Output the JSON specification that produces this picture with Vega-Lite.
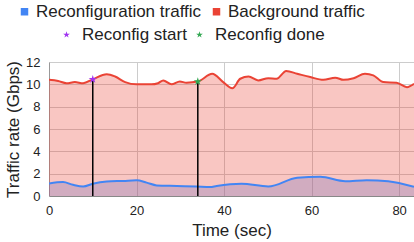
{
  "$schema": "https://vega.github.io/schema/vega-lite/v6.json",
  "width": 365,
  "height": 134,
  "autosize": {"type": "none"},
  "padding": {"left": 49, "top": 62, "right": 0, "bottom": 46},
  "background": "white",
  "config": {
    "font": "Liberation Sans",
    "view": {"stroke": null},
    "axis": {"labelFont": "Liberation Sans", "titleFont": "Liberation Sans", "labelColor": "#222", "titleColor": "#222", "titleFontWeight": "normal", "gridColor": "#cccccc", "ticks": false, "domainColor": "#999999", "labelFlush": false, "labelOverlap": false},
    "legend": {"labelFont": "Liberation Sans", "labelColor": "#222", "padding": 0, "labelLimit": 400}
  },
  "datasets": {
    "traffic": [
      {"t": 0, "v": 10.4, "s": "Background traffic"},
      {"t": 2.1, "v": 10.3, "s": "Background traffic"},
      {"t": 4, "v": 10.1, "s": "Background traffic"},
      {"t": 5.9, "v": 10.2, "s": "Background traffic"},
      {"t": 7.8, "v": 10.1, "s": "Background traffic"},
      {"t": 10, "v": 10.45, "s": "Background traffic"},
      {"t": 13.2, "v": 10.9, "s": "Background traffic"},
      {"t": 15.1, "v": 10.7, "s": "Background traffic"},
      {"t": 17.4, "v": 10.2, "s": "Background traffic"},
      {"t": 20, "v": 10.0, "s": "Background traffic"},
      {"t": 23.4, "v": 10.0, "s": "Background traffic"},
      {"t": 24.9, "v": 10.1, "s": "Background traffic"},
      {"t": 26.1, "v": 10.35, "s": "Background traffic"},
      {"t": 28, "v": 10.0, "s": "Background traffic"},
      {"t": 29.9, "v": 10.25, "s": "Background traffic"},
      {"t": 31.4, "v": 10.15, "s": "Background traffic"},
      {"t": 34, "v": 10.25, "s": "Background traffic"},
      {"t": 37.3, "v": 10.95, "s": "Background traffic"},
      {"t": 39.8, "v": 10.2, "s": "Background traffic"},
      {"t": 41.9, "v": 9.65, "s": "Background traffic"},
      {"t": 43.7, "v": 10.5, "s": "Background traffic"},
      {"t": 45.6, "v": 10.7, "s": "Background traffic"},
      {"t": 47.8, "v": 10.35, "s": "Background traffic"},
      {"t": 50.1, "v": 10.55, "s": "Background traffic"},
      {"t": 52, "v": 10.5, "s": "Background traffic"},
      {"t": 54.2, "v": 11.2, "s": "Background traffic"},
      {"t": 56.7, "v": 10.95, "s": "Background traffic"},
      {"t": 59.7, "v": 10.65, "s": "Background traffic"},
      {"t": 62.7, "v": 10.4, "s": "Background traffic"},
      {"t": 65.4, "v": 10.6, "s": "Background traffic"},
      {"t": 67.3, "v": 10.4, "s": "Background traffic"},
      {"t": 69.6, "v": 10.55, "s": "Background traffic"},
      {"t": 72.2, "v": 10.95, "s": "Background traffic"},
      {"t": 74.1, "v": 10.8, "s": "Background traffic"},
      {"t": 76.4, "v": 10.2, "s": "Background traffic"},
      {"t": 79.4, "v": 10.15, "s": "Background traffic"},
      {"t": 81.8, "v": 9.75, "s": "Background traffic"},
      {"t": 83.4, "v": 10.05, "s": "Background traffic"},
      {"t": 0, "v": 1.12, "s": "Reconfiguration traffic"},
      {"t": 3.2, "v": 1.25, "s": "Reconfiguration traffic"},
      {"t": 5.5, "v": 1.0, "s": "Reconfiguration traffic"},
      {"t": 7.8, "v": 0.85, "s": "Reconfiguration traffic"},
      {"t": 10, "v": 1.1, "s": "Reconfiguration traffic"},
      {"t": 13.2, "v": 1.3, "s": "Reconfiguration traffic"},
      {"t": 17, "v": 1.35, "s": "Reconfiguration traffic"},
      {"t": 20, "v": 1.4, "s": "Reconfiguration traffic"},
      {"t": 22.3, "v": 1.2, "s": "Reconfiguration traffic"},
      {"t": 24.6, "v": 0.95, "s": "Reconfiguration traffic"},
      {"t": 29.2, "v": 0.9, "s": "Reconfiguration traffic"},
      {"t": 33.7, "v": 0.85, "s": "Reconfiguration traffic"},
      {"t": 36.8, "v": 0.8, "s": "Reconfiguration traffic"},
      {"t": 38.3, "v": 0.9, "s": "Reconfiguration traffic"},
      {"t": 44, "v": 1.1, "s": "Reconfiguration traffic"},
      {"t": 50.1, "v": 0.85, "s": "Reconfiguration traffic"},
      {"t": 56.7, "v": 1.63, "s": "Reconfiguration traffic"},
      {"t": 62, "v": 1.72, "s": "Reconfiguration traffic"},
      {"t": 67.7, "v": 1.33, "s": "Reconfiguration traffic"},
      {"t": 72.6, "v": 1.42, "s": "Reconfiguration traffic"},
      {"t": 77.5, "v": 1.33, "s": "Reconfiguration traffic"},
      {"t": 83.4, "v": 0.82, "s": "Reconfiguration traffic"}
    ],
    "events": [
      {"t": 10, "v": 10.45, "event": "Reconfig start"},
      {"t": 34, "v": 10.25, "event": "Reconfig done"}
    ]
  },
  "encoding": {
    "x": {"field": "t", "type": "quantitative", "scale": {"domain": [0, 83.4], "nice": false, "zero": false},
      "axis": {"values": [0, 20, 40, 60, 80], "title": "Time (sec)", "labelFontSize": 13, "titleFontSize": 17, "labelPadding": 8, "titlePadding": 5, "grid": true, "domainColor": "#888888"}},
    "y": {"field": "v", "type": "quantitative", "scale": {"domain": [0, 12], "nice": false},
      "axis": {"values": [0, 2, 4, 6, 8, 10, 12], "title": "Traffic rate (Gbps)", "labelFontSize": 13, "titleFontSize": 17, "labelPadding": 9, "titlePadding": 3, "grid": true}}
  },
  "layer": [
    {
      "data": {"name": "traffic"},
      "transform": [{"filter": "datum.s === 'Reconfiguration traffic'"}],
      "mark": {"type": "area", "interpolate": "monotone", "fillOpacity": 0.3, "clip": true},
      "encoding": {
        "y": {"field": "v", "type": "quantitative", "stack": null},
        "color": {"field": "s", "type": "nominal", "scale": {"domain": ["Reconfiguration traffic", "Background traffic"], "range": ["#4285F4", "#EA4335"]},
          "legend": {"orient": "none", "legendX": -33, "legendY": -59, "direction": "horizontal", "title": null, "symbolType": "square", "symbolSize": 56, "symbolOpacity": 1, "symbolStrokeWidth": 0, "labelFontSize": 17, "labelOffset": 3, "columnPadding": 6}}
      }
    },
    {
      "data": {"name": "traffic"},
      "transform": [{"filter": "datum.s === 'Background traffic'"}],
      "mark": {"type": "area", "interpolate": "monotone", "fillOpacity": 0.3, "clip": true},
      "encoding": {
        "y": {"field": "v", "type": "quantitative", "stack": null},
        "color": {"field": "s", "type": "nominal"}
      }
    },
    {
      "data": {"name": "traffic"},
      "mark": {"type": "line", "interpolate": "monotone", "strokeWidth": 2, "clip": true},
      "encoding": {
        "color": {"field": "s", "type": "nominal"}
      }
    },
    {
      "data": {"name": "events"},
      "mark": {"type": "rule", "color": "black", "strokeWidth": 1.5},
      "encoding": {
        "y2": {"datum": 0}
      }
    },
    {
      "data": {"name": "events"},
      "mark": {"type": "point", "filled": true, "opacity": 1, "size": 75, "strokeWidth": 0},
      "encoding": {
        "shape": {"field": "event", "type": "nominal", "scale": {"domain": ["Reconfig start", "Reconfig done"], "range": ["M0,-1L0.2245,-0.309L0.951,-0.309L0.363,0.118L0.588,0.809L0,0.382L-0.588,0.809L-0.363,0.118L-0.951,-0.309L-0.2245,-0.309Z", "M0,-1L0.2245,-0.309L0.951,-0.309L0.363,0.118L0.588,0.809L0,0.382L-0.588,0.809L-0.363,0.118L-0.951,-0.309L-0.2245,-0.309Z"]},
          "legend": {"orient": "none", "legendX": 9, "legendY": -36, "direction": "horizontal", "title": null, "symbolSize": 50, "symbolStrokeWidth": 0, "labelFontSize": 17, "labelOffset": 7, "columnPadding": 4}},
        "fill": {"field": "event", "type": "nominal", "scale": {"domain": ["Reconfig start", "Reconfig done"], "range": ["#A033F0", "#34A853"]},
          "legend": {"orient": "none", "legendX": 9, "legendY": -36, "direction": "horizontal", "title": null, "symbolSize": 50, "symbolStrokeWidth": 0, "labelFontSize": 17, "labelOffset": 7, "columnPadding": 4}}
      }
    }
  ]
}
